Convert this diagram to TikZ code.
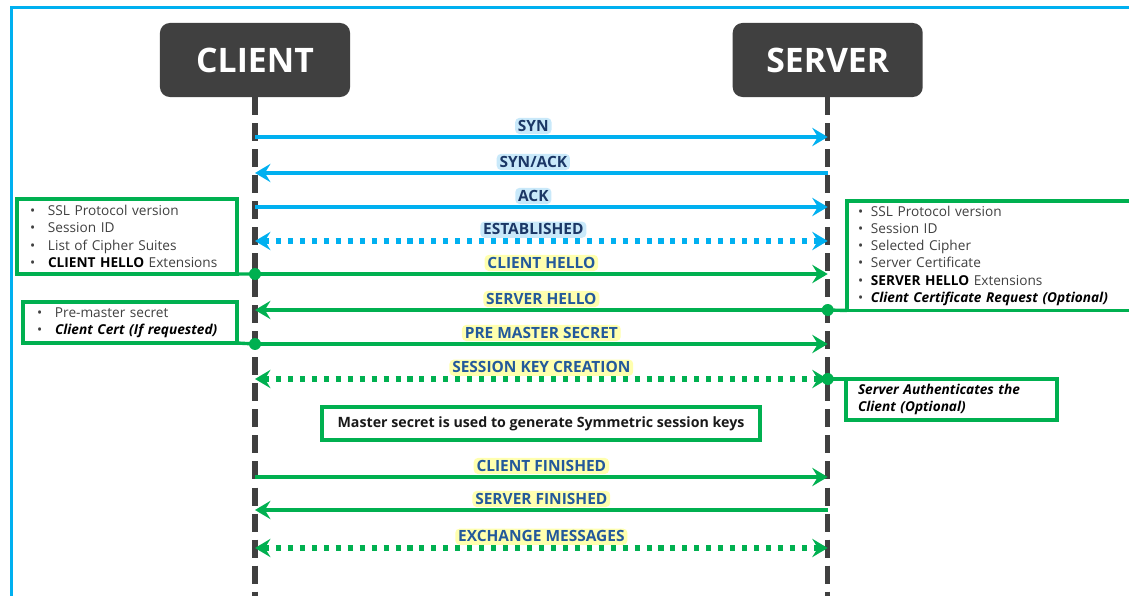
\documentclass[tikz,border=0pt]{standalone}
\usepackage{fontspec}
\setmainfont{Open Sans}
\usetikzlibrary{positioning}
\usetikzlibrary{arrows.meta}

\definecolor{tcpblue}{HTML}{00B0F0}
\definecolor{tlsgreen}{HTML}{00B050}
\definecolor{actorgray}{HTML}{404040}
\definecolor{tcptext}{HTML}{1B3766}
\definecolor{tlstext}{HTML}{23599B}
\definecolor{tcpglow}{HTML}{C9E9FA}
\definecolor{tlsglow}{HTML}{FFFFAE}
\definecolor{notetext}{HTML}{404040}

\newcommand{\bul}[1][12.8pt]{\makebox[#1][l]{\textbullet}}

\begin{document}
\begin{tikzpicture}[%
    x=0.025cm, y=-0.025cm,
    node distance=1cm,
actor/.style={rectangle, rounded corners=7pt, fill=actorgray, text=white, font=\fontsize{24}{28}\selectfont\bfseries, minimum width=4.75cm, minimum height=1.85cm},
lifeline/.style={draw=actorgray, line width=3.6pt, dash pattern=on 12.8pt off 5.7pt},
tcpmsg/.style={draw=tcpblue, line width=3.2pt, -{Stealth[length=11pt, width=13pt, inset=4pt]}},
tcpboth/.style={draw=tcpblue, line width=3.6pt, dash pattern=on 3.6pt off 4.9pt, {Stealth[length=11pt, width=13pt, inset=4pt]}-{Stealth[length=11pt, width=13pt, inset=4pt]}},
tlsmsg/.style={draw=tlsgreen, line width=3.2pt, -{Stealth[length=11pt, width=13pt, inset=4pt]}},
tlsboth/.style={draw=tlsgreen, line width=3.6pt, dash pattern=on 3.6pt off 4.9pt, {Stealth[length=11pt, width=13pt, inset=4pt]}-{Stealth[length=11pt, width=13pt, inset=4pt]}},
tcplbl/.style={fill=tcpglow, rounded corners=3pt, text=tcptext, font=\fontsize{11}{13}\selectfont\bfseries, inner xsep=2pt, inner ysep=1.5pt, text height=8pt, text depth=0.5pt},
tlslbl/.style={fill=tlsglow, rounded corners=3pt, text=tlstext, font=\fontsize{11}{13}\selectfont\bfseries, inner xsep=2pt, inner ysep=1.5pt, text height=8pt, text depth=0.5pt},
note/.style={rectangle, draw=tlsgreen, line width=2.4pt, outer sep=0pt, align=left, text=notetext, font=\fontsize{9.7}{12.3}\selectfont, anchor=north west},
tie/.style={draw=tlsgreen, line width=2.4pt},
dot/.style={circle, fill=tlsgreen, inner sep=0pt, minimum size=8.5pt}
]

\useasboundingbox (0,0) rectangle (1129,596);

% frame
\draw[tcpblue, line width=2.1pt] (11.5,600) -- (11.5,7.5) -- (1135,7.5);

% actor Nodes
\node[actor]      (client) at (255,60) {CLIENT};
\node[actor]      (server) [right=9.55cm of client] {SERVER};

\coordinate (bottom) at (0,600);
\draw[lifeline] (client.south) -- (client.south |- bottom);
\draw[lifeline] (server.south) -- (server.south |- bottom);

% message points on the lifelines
\foreach \msg/\ypos in {syn/137, synack/173, ack/207, est/241, chello/274, shello/310, pms/344, skc/379, cfin/477, sfin/510, exch/548}{
  \coordinate (c-\msg) at (client.south |- 0,\ypos);
  \coordinate (s-\msg) at (server.south |- 0,\ypos);
}

% notes
\node[note, minimum width=5.5cm, minimum height=1.875cm, text width=4.85cm, inner xsep=0.325cm]      (clientlist) at (17,199) {\bul SSL Protocol version\\ \bul Session ID\\ \bul List of Cipher Suites\\ \bul\textcolor{black}{\textbf{CLIENT HELLO}} Extensions};
\node[note, minimum width=7.3cm, minimum height=2.725cm, text width=6.75cm, inner xsep=0.275cm]      (serverlist) at (847,201) {\bul[9.2pt]SSL Protocol version\\ \bul[9.2pt]Session ID\\ \bul[9.2pt]Selected Cipher\\ \bul[9.2pt]Server Certificate\\ \bul[9.2pt]\textcolor{black}{\textbf{SERVER HELLO}} Extensions\\ \bul[9.2pt]\textcolor{black}{\textbf{\textit{Client Certificate Request (Optional)}}}};
\node[note, minimum width=5.35cm, minimum height=1.025cm, text width=4.65cm, inner xsep=0.35cm]      (clientcert) at (23,302) {\bul Pre-master secret\\ \bul\textcolor{black}{\textbf{\textit{Client Cert (If requested)}}}};
\node[note, minimum width=5.275cm, minimum height=1.025cm, text width=4.675cm, inner xsep=0.3cm, text=black, font=\fontsize{9.7}{12.3}\selectfont\bfseries\itshape]      (serverauth) at (846,379) {Server Authenticates the\\ Client (Optional)};
\node[note, anchor=center, minimum width=10.95cm, minimum height=0.825cm, align=center, text=black!90, font=\fontsize{10.1}{12}\selectfont\bfseries]      (mastersecret) at (541,423.5) {Master secret is used to generate Symmetric session keys};

% TCP Lines
\draw[tcpmsg] (c-syn) -- node[tcplbl, above=0.5pt, pos=0.486] (synlbl) {SYN} (s-syn);
\draw[tcpmsg] (s-synack) -- node[tcplbl, above=0.5pt, pos=0.514] (synacklbl) {SYN/ACK} (c-synack);
\draw[tcpmsg] (c-ack) -- node[tcplbl, above=0.5pt, pos=0.486] (acklbl) {ACK} (s-ack);
\draw[tcpboth] (c-est) -- node[tcplbl, above=0.5pt, pos=0.486] (estlbl) {ESTABLISHED} (s-est);

% TLS Lines
\draw[tie] (clientlist.south east) -- (c-chello);
\draw[tlsmsg] (c-chello) -- node[tlslbl, above=0.5pt] (chellolbl) {CLIENT HELLO} (s-chello);
\node[dot] (chellodot) at (c-chello) {};

\draw[tie] (s-shello) -- (serverlist.south west);
\draw[tlsmsg] (s-shello) -- node[tlslbl, above=0.5pt] (shellolbl) {SERVER HELLO} (c-shello);
\node[dot] (shellodot) at (s-shello) {};

\draw[tie] (clientcert.south east) -- (c-pms);
\draw[tlsmsg] (c-pms) -- node[tlslbl, above=0.5pt] (pmslbl) {PRE MASTER SECRET} (s-pms);
\node[dot] (pmsdot) at (c-pms) {};

\draw[tie] (s-skc) -- (serverauth.north west);
\draw[tlsboth] (c-skc) -- node[tlslbl, above=0.5pt] (skclbl) {SESSION KEY CREATION} (s-skc);
\node[dot] (skcdot) at (s-skc) {};

\draw[tlsmsg] (c-cfin) -- node[tlslbl, above=0.5pt] (cfinlbl) {CLIENT FINISHED} (s-cfin);
\draw[tlsmsg] (s-sfin) -- node[tlslbl, above=0.5pt] (sfinlbl) {SERVER FINISHED} (c-sfin);
\draw[tlsboth] (c-exch) -- node[tlslbl, above=0.5pt] (exchlbl) {EXCHANGE MESSAGES} (s-exch);

\end{tikzpicture}
\end{document}
